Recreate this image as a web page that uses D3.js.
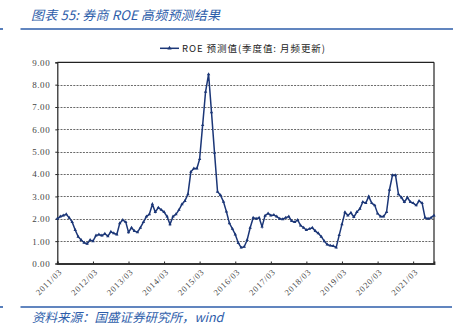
<!DOCTYPE html>
<html><head><meta charset="utf-8">
<script src="https://cdn.jsdelivr.net/npm/d3@7/dist/d3.min.js"></script>
<style>body{margin:0;background:#fff;}svg{display:block;}</style>
</head><body>
<svg id="c" width="463" height="332"></svg>
<script>
const startMonth = "2011-03";
const roeValues = [
 2.0,2.1,2.15,2.2,2.05,1.85,1.5,1.2,1.05,0.93,0.88,1.05,
 1.0,1.25,1.3,1.25,1.33,1.22,1.42,1.35,1.3,1.8,1.95,1.85,
 1.4,1.6,1.45,1.4,1.6,1.85,2.1,2.2,2.65,2.3,2.5,2.4,
 2.3,2.1,1.75,2.1,2.2,2.4,2.65,2.8,3.1,4.1,4.25,4.25,
 4.67,6.19,7.68,8.47,6.76,4.95,3.21,3.06,2.76,2.32,1.8,1.55,
 1.3,0.92,0.71,0.75,1.05,1.6,2.05,2.0,2.05,1.65,2.14,2.24,
 2.15,2.17,2.1,2.0,1.98,2.05,2.1,1.9,1.85,1.95,1.7,1.6,
 1.5,1.55,1.6,1.45,1.35,1.2,1.0,0.85,0.8,0.78,0.72,1.27,
 1.75,2.29,2.15,2.27,2.08,2.3,2.45,2.75,2.7,3.0,2.7,2.6,
 2.24,2.1,2.1,2.3,3.3,3.95,3.95,3.1,2.95,2.75,2.95,2.75,
 2.7,2.6,2.8,2.7,2.05,2.0,2.05,2.15
];
const xTickLabels = ["2011/03","2012/03","2013/03","2014/03","2015/03","2016/03","2017/03","2018/03","2019/03","2020/03","2021/03"];
const yTicks = [0,1,2,3,4,5,6,7,8,9];
const seriesName = "ROE 预测值(季度值: 月频更新)";
const titleText = "图表 55:  券商 ROE 高频预测结果";
const sourceText = "资料来源：国盛证券研究所，wind";

const parseM = d3.timeParse("%Y-%m");
const t0 = parseM(startMonth);
const data = roeValues.map((v,i)=>({date:d3.timeMonth.offset(t0,i), v}));
const tickDates = xTickLabels.map(s=>d3.timeParse("%Y/%m")(s));

const svg = d3.select("#c");
const L=57.3, R=434, T=62.3, B=263.5;
const x = d3.scaleTime().domain([t0, data[data.length-1].date]).range([L,R]);
const y = d3.scaleLinear().domain([0,9]).range([B,T]);

const blue="#2d5daa", navy="#1b3677";

// title
svg.append("text").attr("x",31).attr("y",20).attr("fill",blue)
  .attr("font-family","'Noto Sans CJK SC', sans-serif").attr("font-size",13)
  .attr("font-style","italic").attr("textLength",189).attr("lengthAdjust","spacing").text(titleText);
svg.append("line").attr("x1",20.5).attr("x2",453).attr("y1",29).attr("y2",29).attr("stroke",blue).attr("stroke-width",1.6);
svg.append("line").attr("x1",0).attr("x2",3).attr("y1",29).attr("y2",29).attr("stroke",blue).attr("stroke-width",1.6);

// legend
svg.append("line").attr("x1",160).attr("x2",179).attr("y1",48.3).attr("y2",48.3).attr("stroke",navy).attr("stroke-width",1.5);
svg.append("path").attr("d",d3.symbol(d3.symbolTriangle,8)()).attr("transform","translate(169.5,48.3)").attr("fill",navy);
svg.append("text").attr("x",182).attr("y",51.5).attr("font-family","'Noto Sans CJK SC', serif").attr("font-size",9.5).attr("fill","#222")
  .attr("textLength",143).attr("lengthAdjust","spacing").text(seriesName);

// gridlines
svg.append("g").selectAll("line").data(yTicks.filter(d=>d>0&&d<9)).join("line")
  .attr("x1",L).attr("x2",R).attr("y1",d=>Math.round(y(d))+0.5).attr("y2",d=>Math.round(y(d))+0.5)
  .attr("stroke","#444").attr("stroke-width",0.8).attr("stroke-dasharray","2,1.2");

// y axis
const ya = svg.append("g").attr("transform",`translate(${L},0)`)
  .call(d3.axisLeft(y).tickValues(yTicks).tickFormat(d3.format(".2f")).tickSize(2).tickPadding(5));
ya.select(".domain").attr("stroke","#222").attr("stroke-width",1.2);
ya.selectAll(".tick line").attr("stroke","#222");
ya.selectAll("text").attr("font-family","'Liberation Serif', serif").attr("font-size",9).attr("fill","#444").attr("letter-spacing","0.6px");

// x axis
const xa = svg.append("g").attr("transform",`translate(0,${B})`)
  .call(d3.axisBottom(x).tickValues(tickDates).tickFormat((d,i)=>xTickLabels[i]).tickSize(-2).tickPadding(4));
xa.select(".domain").attr("stroke","#333").attr("stroke-width",1.8);
xa.selectAll(".tick line").attr("stroke","#222");
xa.selectAll("text").attr("font-family","'Liberation Serif', serif").attr("font-size",8.5).attr("fill","#444")
  .attr("letter-spacing","0.8px")
  .attr("text-anchor","end").attr("dy",0).attr("transform","translate(2,6) rotate(-45)");

// top/right border
svg.append("line").attr("x1",L).attr("x2",R).attr("y1",T).attr("y2",T).attr("stroke","#222").attr("stroke-width",1.2);
svg.append("line").attr("x1",R).attr("x2",R).attr("y1",T).attr("y2",B).attr("stroke","#222").attr("stroke-width",1.2);

// series
svg.append("path").datum(data).attr("fill","none").attr("stroke",navy).attr("stroke-width",1.5)
  .attr("d",d3.line().x(d=>x(d.date)).y(d=>y(d.v)));
svg.append("g").selectAll("path").data(data).join("path")
  .attr("d",d3.symbol(d3.symbolTriangle,5)()).attr("fill",navy)
  .attr("transform",d=>`translate(${x(d.date)},${y(d.v)})`);

// source
svg.append("line").attr("x1",20.5).attr("x2",452).attr("y1",307).attr("y2",307).attr("stroke",blue).attr("stroke-width",1.6);
svg.append("line").attr("x1",0).attr("x2",3).attr("y1",307).attr("y2",307).attr("stroke",blue).attr("stroke-width",1.6);
svg.append("text").attr("x",32).attr("y",322).attr("fill",blue)
  .attr("font-family","'Noto Sans CJK SC', sans-serif").attr("font-size",12.5)
  .attr("font-style","italic").text(sourceText);
</script>
</body></html>
